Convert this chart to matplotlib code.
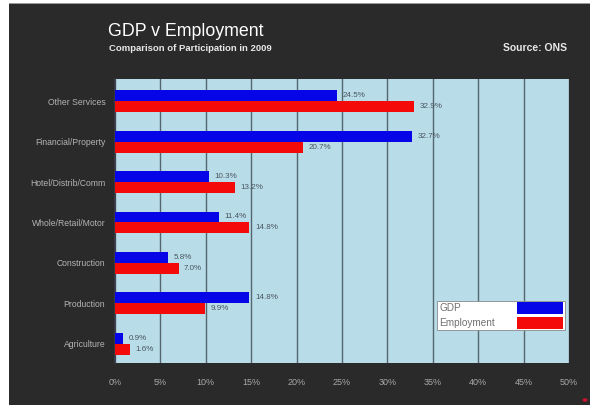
import matplotlib
matplotlib.use("Agg")
import matplotlib.pyplot as plt
from matplotlib.patches import Rectangle, Circle
import numpy as np

plt.rcParams['font.family'] = ['Liberation Sans', 'DejaVu Sans']

sectors = ["Other Services", "Financial/Property", "Hotel/Distrib/Comm",
           "Whole/Retail/Motor", "Construction", "Production", "Agriculture"]
gdp = [24.5, 32.7, 10.3, 11.4, 5.8, 14.8, 0.9]
employment = [32.9, 20.7, 13.2, 14.8, 7.0, 9.9, 1.6]
xticks = [0, 5, 10, 15, 20, 25, 30, 35, 40, 45, 50]
series_names = ["GDP", "Employment"]

W, H = 590, 405
fig = plt.figure(figsize=(W / 100, H / 100), dpi=100, facecolor="white")

# dark slide background, kept beneath the axes
fig.patches.append(Rectangle((9 / W, 0), 1 - 9 / W, 1 - 4 / H, transform=fig.transFigure,
                             facecolor="#2b2a2a", edgecolor="none", zorder=-10))
fig.patches.append(Rectangle((9 / W, 1 - 4 / H), 1 - 9 / W, 1.5 / H,
                             transform=fig.transFigure, facecolor="#9a9a9a",
                             edgecolor="none", zorder=-10))
fig.patches.append(Circle((585 / W, 5 / H), 2.5 / W, transform=fig.transFigure,
                          facecolor="#d01030", edgecolor="none", zorder=-5))

ax = fig.add_axes([115 / W, 1 - 363 / H, 454 / W, 284 / H])
ax.set_zorder(1)
ax.set_facecolor("#b8dde9")

y = np.arange(len(sectors))
h = 0.27
blue = "#0505e8"
red = "#f50a0a"
ax.barh(y - h / 2, gdp, height=h, color=blue, zorder=3)
ax.barh(y + h / 2, employment, height=h, color=red, zorder=3)

for yi, g, e in zip(y, gdp, employment):
    ax.annotate(f"{g:.1f}%", (g, yi - h / 2), xytext=(4, 0), textcoords="offset points",
                va="center", ha="left", fontsize=5.8, color="#4a5560", zorder=4)
    ax.annotate(f"{e:.1f}%", (e, yi + h / 2), xytext=(4, 0), textcoords="offset points",
                va="center", ha="left", fontsize=5.8, color="#4a5560", zorder=4)

ax.set_xlim(0, 50)
ax.set_ylim(len(sectors) - 0.52, -0.55)
ax.set_xticks(xticks)
ax.set_xticklabels([f"{t}%" for t in xticks])
ax.set_yticks(y)
ax.set_yticklabels(sectors)
ax.tick_params(axis="x", length=0, pad=11, labelsize=6.5, labelcolor="#a8a8a8")
ax.tick_params(axis="y", length=0, pad=7, labelsize=6.2, labelcolor="#b4b4b4")
ax.grid(axis="x", color="#56666e", linewidth=1.0, zorder=1)
ax.set_axisbelow(True)
for s in ["top", "right", "bottom"]:
    ax.spines[s].set_visible(False)
ax.spines["left"].set_color("#3a3a4a")
ax.spines["left"].set_linewidth(1.2)

# legend block
ax.add_patch(Rectangle((0.709, 0.116), 0.282, 0.102, transform=ax.transAxes,
                       facecolor="white", edgecolor="#888888", linewidth=0.6, zorder=5))
ax.add_patch(Rectangle((0.885, 0.173), 0.102, 0.042, transform=ax.transAxes,
                       facecolor=blue, edgecolor="none", zorder=6))
ax.add_patch(Rectangle((0.885, 0.120), 0.102, 0.042, transform=ax.transAxes,
                       facecolor=red, edgecolor="none", zorder=6))
ax.text(0.714, 0.192, series_names[0], transform=ax.transAxes, fontsize=7.2,
        color="#707070", va="center", ha="left", zorder=7)
ax.text(0.714, 0.142, series_names[1], transform=ax.transAxes, fontsize=7.2,
        color="#707070", va="center", ha="left", zorder=7)

# titles
fig.text(108 / W, 1 - 36 / H, "GDP v Employment", fontsize=12.8, color="white",
         ha="left", va="baseline")
fig.text(109 / W, 1 - 51 / H, "Comparison of Participation in 2009", fontsize=6.8,
         fontweight="bold", color="#e8e8e8", ha="left", va="baseline")
fig.text(567 / W, 1 - 51 / H, "Source: ONS", fontsize=7.5, fontweight="bold",
         color="#e8e8e8", ha="right", va="baseline")

fig.savefig("out.png", dpi=100, facecolor=fig.get_facecolor())
